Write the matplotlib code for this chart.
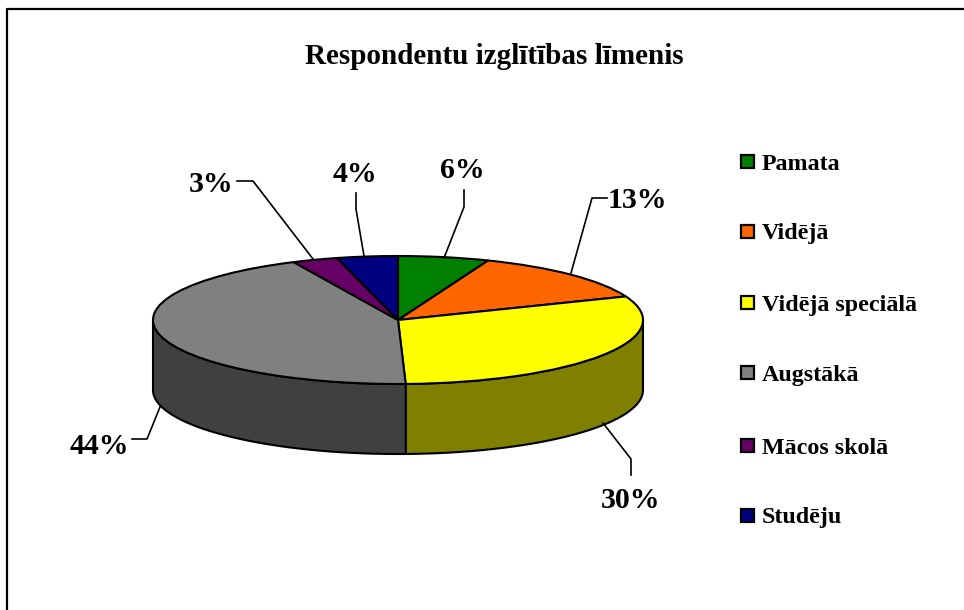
import numpy as np
import matplotlib
matplotlib.use("Agg")
import matplotlib.pyplot as plt
from matplotlib.patches import Rectangle

categories = ["Pamata", "Vidējā", "Vidējā speciālā", "Augstākā", "Mācos skolā", "Studēju"]
values = [6, 13, 30.5, 43.5, 3, 4]
percent_labels = ["6%", "13%", "30%", "44%", "3%", "4%"]
colors = ["#008000", "#FF6600", "#FFFF00", "#808080", "#660066", "#000080"]
wall_colors = ["#004000", "#803300", "#808000", "#404040", "#330033", "#000040"]
title = "Respondentu izglītības līmenis"

W, H = 964, 610
CX, CY, RX, RY, DEPTH = 398, 320, 245, 64, 70
SERIF = "Liberation Serif"

fig = plt.figure(figsize=(W / 100, H / 100), dpi=100, facecolor="white")

# Pie axes: data units are the unit circle, squeezed into an ellipse by the limits
ax = fig.add_axes([0, 0, 1, 1])
depth_u = DEPTH / RY
fracs = np.cumsum([0] + values) / sum(values) * 2 * np.pi

# side walls (front half only)
for i in range(len(values)):
    a0, a1 = max(fracs[i], np.pi / 2), min(fracs[i + 1], 3 * np.pi / 2)
    if a1 <= a0:
        continue
    t = np.linspace(a0, a1, 200)
    x, y = np.sin(t), np.cos(t)
    ax.fill(np.r_[x, x[::-1]], np.r_[y, (y - depth_u)[::-1]],
            facecolor=wall_colors[i], edgecolor="black", linewidth=1.5, zorder=1)

ax.pie(values, colors=colors, startangle=90, counterclock=False, radius=1,
       wedgeprops=dict(edgecolor="black", linewidth=1.5, zorder=2))
ax.set_aspect("auto")
ax.set_xlim((0 - CX) / RX, (W - CX) / RX)
ax.set_ylim((CY - H) / RY, (CY - 0) / RY)
ax.axis("off")

# Overlay in pixel coordinates: frame, labels, leaders, legend
ov = fig.add_axes([0, 0, 1, 1], facecolor="none")
ov.set_xlim(0, W)
ov.set_ylim(H, 0)
ov.axis("off")

ov.plot([7, 7, W + 5], [H + 5, 9, 9], color="black", lw=1.6, zorder=1)
ov.text(494, 56, title, family=SERIF, weight="bold", fontsize=21, ha="center", va="center")

label_pos = [(462, 171), (637, 200), (630, 501), (99, 446), (211, 184), (355, 174)]
leaders = [
    [(444, 258), (464, 207), (464, 190)],
    [(571, 273), (592, 198), (607, 198)],
    [(603, 423), (631, 459), (631, 475)],
    [(160, 407), (147, 439), (132, 439)],
    [(313, 259), (253, 181), (237, 181)],
    [(364, 256), (356, 209), (356, 193)],
]
for lab, (lx, ly), pts in zip(percent_labels, label_pos, leaders):
    ov.text(lx, ly, lab, family=SERIF, weight="bold", fontsize=21.5, ha="center", va="center")
    xs, ys = zip(*pts)
    ov.plot(xs, ys, color="black", lw=1.2)

leg_y = [162, 232, 303, 373, 446, 516]
for name, c, y in zip(categories, colors, leg_y):
    ov.add_patch(Rectangle((741, y - 7), 13, 13, facecolor=c, edgecolor="black", lw=1.6))
    ov.text(762, y + 2, name, family=SERIF, weight="bold", fontsize=17.3, ha="left", va="center")

fig.savefig("out.png", dpi=100)
